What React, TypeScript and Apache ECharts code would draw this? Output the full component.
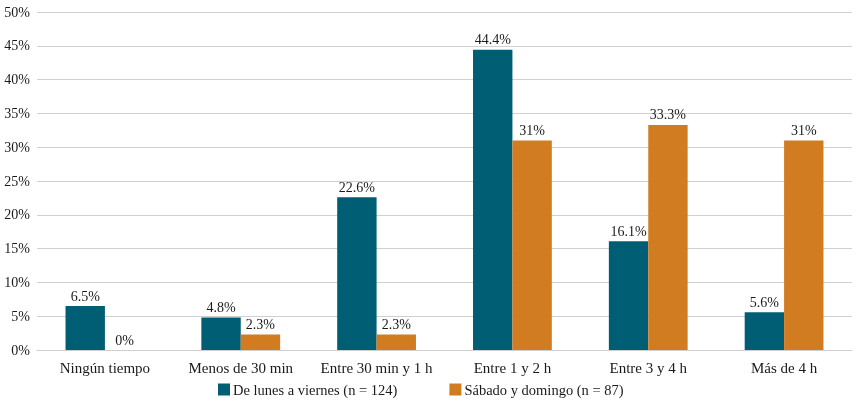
import React, { useEffect, useRef } from "react";
import * as echarts from "echarts";

const categories = ["Ningún tiempo", "Menos de 30 min", "Entre 30 min y 1 h", "Entre 1 y 2 h", "Entre 3 y 4 h", "Más de 4 h"];
const weekdayName = "De lunes a viernes (n = 124)";
const weekendName = "Sábado y domingo (n = 87)";
const weekdayValues = [6.5, 4.8, 22.6, 44.4, 16.1, 5.6];
const weekendValues = [0, 2.3, 2.3, 31, 33.3, 31];

const FONT = "'Liberation Serif', 'DejaVu Serif', serif";

export default function App() {
  const ref = useRef<HTMLDivElement>(null);
  useEffect(() => {
    const chart = echarts.init(ref.current!, null, { renderer: "svg" });
    const label = {
      show: true,
      position: "top",
      color: "#1a1a1a",
      fontFamily: FONT,
      fontSize: 14,
      distance: 3,
      formatter: (p: any) => `${p.value}%`,
    };
    chart.setOption({
      animation: false,
      textStyle: { fontFamily: FONT },
      grid: { left: 37, right: 5, top: 12, bottom: 53, containLabel: false },
      legend: {
        bottom: 1,
        left: 213,
        padding: 5,
        itemWidth: 12,
        itemHeight: 12,
        itemGap: 52,
        icon: "rect",
        textStyle: { fontFamily: FONT, fontSize: 14.5, color: "#1a1a1a", padding: [0, 0, 0, -2] },
        data: [weekdayName, weekendName],
      },
      xAxis: {
        type: "category",
        data: categories,
        axisLine: { show: true, lineStyle: { color: "#d0d0d0" } },
        axisTick: { show: false },
        axisLabel: { color: "#1a1a1a", fontFamily: FONT, fontSize: 15, margin: 10, interval: 0 },
      },
      yAxis: {
        type: "value",
        min: 0,
        max: 50,
        interval: 5,
        axisLine: { show: false },
        axisTick: { show: false },
        splitLine: { lineStyle: { color: "#d0d0d0" } },
        axisLabel: { color: "#1a1a1a", fontFamily: FONT, fontSize: 14, formatter: "{value}%", margin: 7 },
      },
      series: [
        {
          name: weekdayName,
          type: "bar",
          data: weekdayValues,
          itemStyle: { color: "#005E74" },
          barGap: "0%",
          barCategoryGap: "42%",
          label,
        },
        {
          name: weekendName,
          type: "bar",
          data: weekendValues,
          itemStyle: { color: "#D27C22" },
          barGap: "0%",
          barCategoryGap: "42%",
          label,
        },
      ],
    });
    return () => chart.dispose();
  }, []);
  return <div ref={ref} style={{ position: "fixed", left: 0, top: 0, width: 857, height: 403 }} />;
}
